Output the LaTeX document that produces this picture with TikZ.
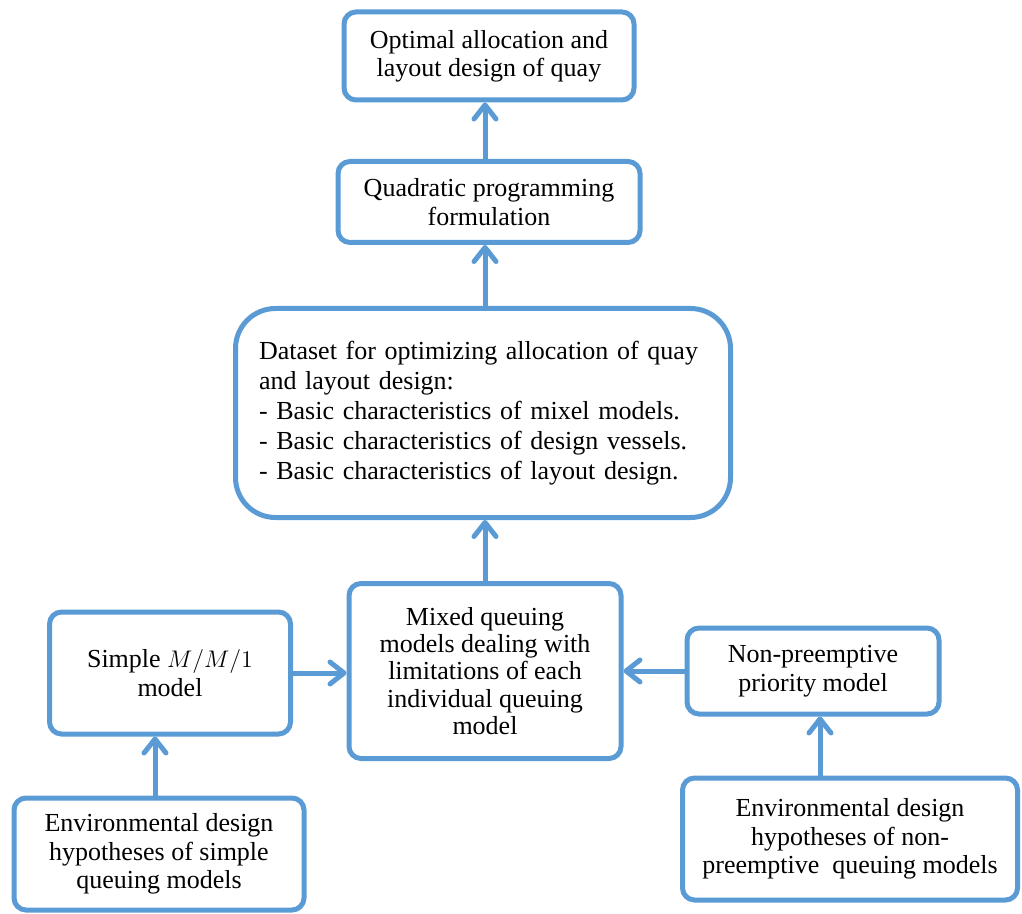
\documentclass[tikz,border=0pt]{standalone}
\usepackage{fontspec}
\setmainfont{Liberation Serif}
\usepackage{tikz}
\usetikzlibrary{arrows.meta,positioning,calc}
\definecolor{EdgeBlue}{HTML}{5B9BD5}

\begin{document}
\begin{tikzpicture}[
  x=0.5pt,y=-0.5pt,
  box/.style={draw=EdgeBlue,line width=2.5pt,rounded corners=6pt,align=center,inner sep=2pt,
    font=\fontsize{13}{14.2}\selectfont},
  arrow/.style={-{Straight Barb[round,length=7pt,width=11pt]},line width=2.5pt,draw=EdgeBlue,line cap=round}
]
\useasboundingbox (0,0) rectangle (1022,914);
\node[box,minimum width=145pt,minimum height=44pt] (goal) at (489,56) {Optimal allocation and\\layout design of quay};
\node[box,minimum width=151pt,minimum height=40.5pt] (quad) at (489,202) {Quadratic programming\\formulation};
\node[box,rounded corners=20pt,minimum width=247.5pt,minimum height=104.5pt,text width=224pt,align=left,
  font=\fontsize{13}{15}\selectfont] (data) at (483,413)
  {Dataset for optimizing allocation of quay and layout design:\\
   - Basic characteristics of mixel models.\\
   - Basic characteristics of design vessels.\\
   - Basic characteristics of layout design.};
\node[box,minimum width=136pt,minimum height=87.5pt,font=\fontsize{13}{13.6}\selectfont] (mixed) at (485,671)
  {Mixed queuing\\models dealing with\\limitations of each\\individual queuing\\model};
\node[box,minimum width=120.5pt,minimum height=61pt] (mm1) at (170,673) {Simple $M/M/1$\\model};
\node[box,minimum width=126pt,minimum height=43pt] (prio) at (813,671) {Non-preemptive\\priority model};
\node[box,minimum width=145pt,minimum height=56pt] (envL) at (159,854)
  {Environmental design\\hypotheses of simple\\queuing models};
\node[box,minimum width=167.5pt,minimum height=61pt] (envR) at (850,839)
  {Environmental design\\hypotheses of non-\\preemptive\ \ queuing models};
\draw[arrow] ($(quad.north)+(-4,0)$)--($(goal.south)+(-4,0)$);
\draw[arrow] ($(data.north)+(2,0)$)--($(quad.south)+(-4,0)$);
\draw[arrow] (mixed.north)--(mixed.north|-data.south);
\draw[arrow] (mm1.east)--(mm1.east-|mixed.west);
\draw[arrow] (prio.west)--(prio.west-|mixed.east);
\draw[arrow] ($(envL.north)+(-4,0)$)--($(mm1.south)+(-15,0)$);
\draw[arrow] ($(envR.north -| prio.south)+(7,0)$)--($(prio.south)+(7,0)$);
\end{tikzpicture}
\end{document}
